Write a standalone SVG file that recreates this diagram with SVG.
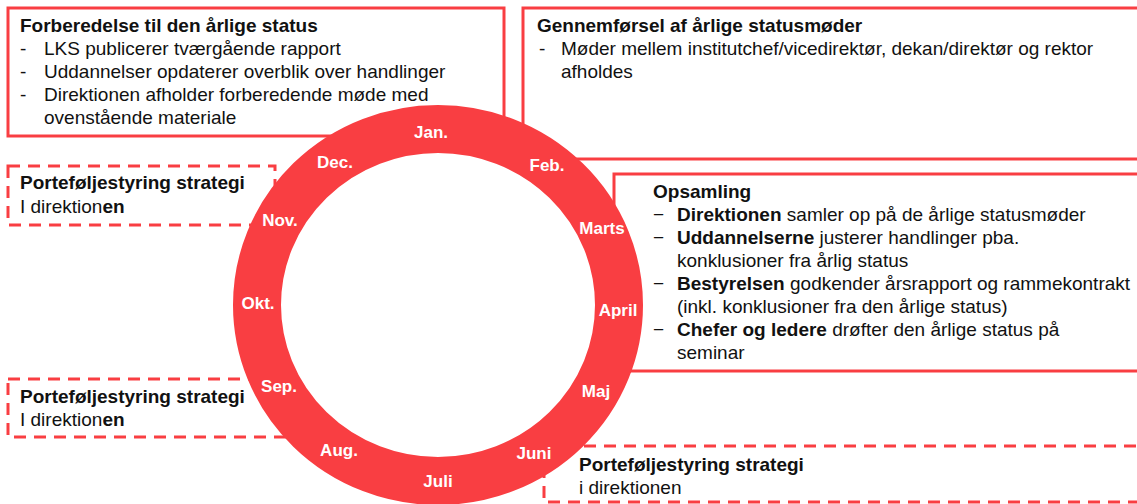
<svg xmlns="http://www.w3.org/2000/svg" width="1137" height="504" viewBox="0 0 1137 504">
<style>
.solid{fill:#fff;stroke:#F93E42;stroke-width:3}
.dash{fill:#fff;stroke:#F93E42;stroke-width:3;stroke-dasharray:12 8}
text{font-family:"Liberation Sans",Arial,sans-serif;font-size:19px;fill:#111}
.b{font-weight:bold}
.m{font-weight:bold;font-size:17px;fill:#fff;text-anchor:middle}
</style>
<rect width="1137" height="504" fill="#fff"/>
<g id="box-forberedelse">
<rect class="solid" x="8" y="8" width="496" height="128"/>
<text x="20" y="32" class="b">Forberedelse til den årlige status</text>
<text x="20" y="55">-</text><text x="44" y="55">LKS publicerer tværgående rapport</text>
<text x="20" y="78">-</text><text x="44" y="78">Uddannelser opdaterer overblik over handlinger</text>
<text x="20" y="101">-</text><text x="44" y="101">Direktionen afholder forberedende møde med</text>
<text x="44" y="124">ovenstående materiale</text>
</g>
<g id="box-gennemfoersel">
<rect class="solid" x="523" y="8" width="630" height="151"/>
<text x="537" y="32" class="b">Gennemførsel af årlige statusmøder</text>
<text x="539" y="55">-</text><text x="561" y="55">Møder mellem institutchef/vicedirektør, dekan/direktør og rektor</text>
<text x="561" y="78">afholdes</text>
</g>
<g id="box-opsamling">
<rect class="solid" x="614" y="174" width="540" height="197"/>
<text x="653" y="198" class="b">Opsamling</text>
<text x="653" y="221">−</text><text x="677" y="221"><tspan class="b">Direktionen</tspan> samler op på de årlige statusmøder</text>
<text x="653" y="244">−</text><text x="677" y="244"><tspan class="b">Uddannelserne</tspan> justerer handlinger pba.</text>
<text x="677" y="267">konklusioner fra årlig status</text>
<text x="653" y="290">−</text><text x="677" y="290"><tspan class="b">Bestyrelsen</tspan> godkender årsrapport og rammekontrakt</text>
<text x="677" y="313">(inkl. konklusioner fra den årlige status)</text>
<text x="653" y="336">−</text><text x="677" y="336"><tspan class="b">Chefer og ledere</tspan> drøfter den årlige status på</text>
<text x="677" y="359">seminar</text>
</g>
<g id="box-portefoelje-nov">
<rect class="dash" x="8" y="166" width="267" height="59"/>
<text x="20" y="189" class="b">Porteføljestyring strategi</text>
<text x="20" y="213">I direktion<tspan class="b">en</tspan></text>
</g>
<g id="box-portefoelje-sep">
<rect class="dash" x="8" y="379" width="290" height="58"/>
<text x="20" y="403" class="b">Porteføljestyring strategi</text>
<text x="20" y="426">I direktion<tspan class="b">en</tspan></text>
</g>
<g id="box-portefoelje-juni">
<rect class="dash" x="544" y="446" width="610" height="56"/>
<text x="579" y="471" class="b">Porteføljestyring strategi</text>
<text x="579" y="494">i direktionen</text>
</g>
<g id="connectors"></g>
<g id="year-wheel">
<ellipse cx="438" cy="305" rx="181" ry="176" fill="none" stroke="#F93E42" stroke-width="48"/>
<text class="m" x="431" y="138">Jan.</text>
<text class="m" x="547" y="171">Feb.</text>
<text class="m" x="602" y="234">Marts</text>
<text class="m" x="618" y="316">April</text>
<text class="m" x="596" y="397">Maj</text>
<text class="m" x="534" y="459">Juni</text>
<text class="m" x="438" y="487">Juli</text>
<text class="m" x="339" y="456">Aug.</text>
<text class="m" x="279" y="392">Sep.</text>
<text class="m" x="258" y="309">Okt.</text>
<text class="m" x="280" y="226">Nov.</text>
<text class="m" x="335" y="168">Dec.</text>
</g>
</svg>
